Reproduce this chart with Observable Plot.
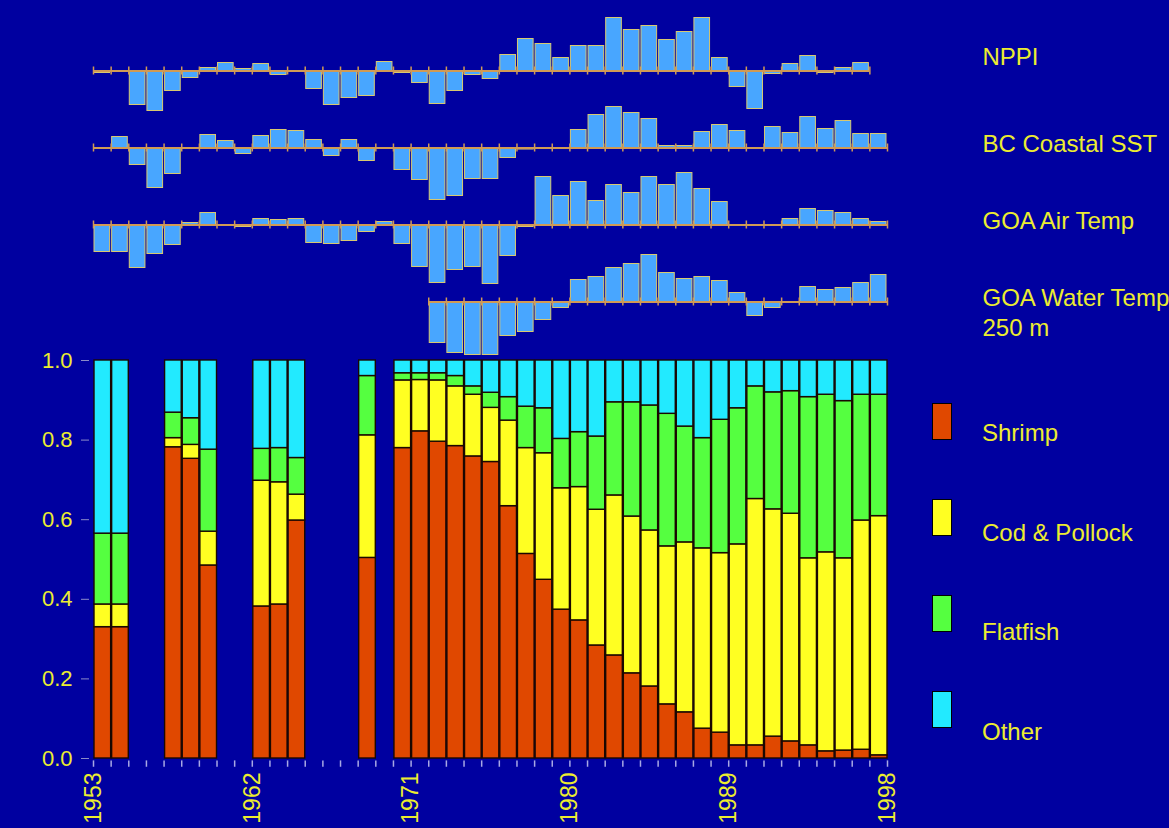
<!DOCTYPE html>
<html><head><meta charset="utf-8">
<script src="https://cdn.jsdelivr.net/npm/d3@7"></script>
<script src="https://cdn.jsdelivr.net/npm/@observablehq/plot@0.6"></script>
<style>
html,body{margin:0;padding:0;background:#0000a0;overflow:hidden}
#wrap{position:relative;width:1169px;height:828px;font-family:"Liberation Sans",Arial,sans-serif}
#wrap svg{display:block;overflow:visible}
.sw{position:absolute;left:932px;width:20px;height:37px;box-sizing:border-box;border:1px solid #000}
.lb{position:absolute;left:982px;font-size:24px;line-height:24px;color:#ecec30;white-space:nowrap}
</style></head><body><div id="wrap"></div>
<script>
// ---------- data ----------
const categories = ["Shrimp", "Cod & Pollock", "Flatfish", "Other"];
const colors = ["#e04800", "#ffff22", "#55ff40", "#22eaff"];
const surveyYears = [1953,1954,1957,1958,1959,1962,1963,1964,1968,1970,1971,1972,1973,1974,1975,1976,1977,1978,1979,1980,1981,1982,1983,1984,1985,1986,1987,1988,1989,1990,1991,1992,1993,1994,1995,1996,1997];
const shrimp     = [.330,.330,.782,.753,.485,.382,.387,.598,.504,.780,.822,.796,.785,.759,.745,.634,.514,.449,.374,.347,.284,.259,.214,.181,.136,.116,.075,.065,.033,.033,.055,.043,.033,.018,.020,.022,.008];
const codPollock = [.057,.057,.023,.035,.085,.316,.307,.065,.308,.170,.129,.154,.150,.155,.136,.215,.266,.318,.305,.335,.341,.402,.394,.392,.397,.427,.453,.451,.505,.619,.571,.572,.470,.500,.483,.576,.601];
const flatfish   = [.178,.178,.064,.067,.206,.080,.086,.092,.149,.018,.017,.018,.026,.021,.038,.059,.104,.113,.124,.138,.184,.234,.287,.314,.333,.291,.277,.335,.342,.283,.294,.308,.405,.396,.395,.316,.305];
const other      = [.435,.435,.131,.145,.224,.222,.220,.245,.039,.032,.032,.032,.039,.065,.081,.092,.116,.120,.197,.180,.191,.105,.105,.113,.134,.166,.195,.149,.120,.065,.080,.077,.092,.086,.102,.086,.086];

const seriesNames = ["NPPI", "BC Coastal SST", "GOA Air Temp", "GOA Water Temp\n250 m"];
const seriesStart = [1953, 1953, 1953, 1972];
const nppi     = [-2,0,-34,-40,-20,-7,3,8,2,7,-4,0,-18,-34,-27,-25,9,-2,-12,-33,-20,-4,-8,16,32,27,13,25,25,53,41,45,31,39,53,13,-16,-38,-3,7,15,-2,3,8];
const bcSST    = [0,11,-17,-40,-26,0,13,7,-6,12,18,17,8,-8,8,-13,-1,-22,-32,-52,-48,-31,-31,-10,-1.5,-1,-1,18,33,41,35,29,2,2,16,23,17,0,21,15,31,19,27,14,14];
const goaAir   = [-27,-27,-43,-29,-20,2,12,0,-2,6,5,6,-18,-19,-16,-7,3,-19,-42,-58,-45,-42,-59,-31,-2,48,29,43,24,40,32,48,40,52,36,23,-1,-1,-1,6,16,14,12,6,3];
const goaWater = [-41,-51,-53,-53,-34,-30,-18,-6,22,25,34,38,47,29,23,25,21,9,-14,-6,0,15,12,14,19,27];

const xTickLabels = [1953, 1962, 1971, 1980, 1989, 1998];
const yTicks = [0, 0.2, 0.4, 0.6, 0.8, 1.0];
const xDomain = [1953, 1998];

// ---------- tables ----------
const seriesValues = [nppi, bcSST, goaAir, goaWater];
const anom = [], anomTicks = [], anomExtent = [];
seriesValues.forEach((vals, k) => {
  const s = seriesNames[k], start = seriesStart[k];
  vals.forEach((v, i) => anom.push({series: s, year: start + i, value: v}));
  for (let i = 0; i <= vals.length; i++) anomTicks.push({series: s, year: start + i});
  anomExtent.push({series: s, x1: start, x2: start + vals.length});
});

const stackRows = [];
const shares = [shrimp, codPollock, flatfish, other];
surveyYears.forEach((y, i) => categories.forEach((c, k) => stackRows.push({year: y, species: c, value: shares[k][i]})));
const yearTicks = d3.range(xDomain[0], xDomain[1] + 1);

const font = '"Liberation Sans", Arial, sans-serif';
const yellow = "#ecec30";
const tan = "#d09a55";
const labelStyle = {text: d => d, frameAnchor: "right", dx: 95, textAnchor: "start", lineAnchor: "top", lineHeight: 1.25, fill: yellow, fontSize: 24};

// ---------- top: climate indices ----------
const topPlot = Plot.plot({
  width: 1169, height: 340,
  marginLeft: 93, marginRight: 282, marginTop: 31.5, marginBottom: 0.5,
  x: {domain: xDomain, axis: null},
  y: {domain: [-38.5, 38.5], axis: null},
  fy: {domain: seriesNames, padding: 0, axis: null},
  style: {background: "transparent", overflow: "visible", fontFamily: font},
  marks: [
    Plot.rectY(anom, {x: "year", interval: 1, y: "value", fy: "series", fill: "#48a6ff", stroke: "#d8c870", strokeWidth: 1, insetLeft: 1, insetRight: 1}),
    Plot.ruleY(anomExtent, {fy: "series", y: 0, x1: "x1", x2: "x2", stroke: tan, strokeWidth: 2}),
    Plot.ruleX(anomTicks, {fy: "series", x: "year", y1: -4, y2: 4, stroke: tan, strokeWidth: 1.5}),
    Plot.text(seriesNames.slice(0, 1), {...labelStyle, fy: d => d, dy: -27}),
    Plot.text(seriesNames.slice(1), {...labelStyle, fy: d => d, dy: -17})
  ]
});

// ---------- bottom: catch composition ----------
const bottomPlot = Plot.plot({
  width: 1169, height: 488,
  marginLeft: 93, marginRight: 282, marginTop: 20, marginBottom: 70,
  x: {domain: xDomain, axis: null},
  y: {domain: [0, 1], axis: null},
  color: {domain: categories, range: colors},
  style: {background: "transparent", overflow: "visible", fontFamily: font},
  marks: [
    Plot.rectY(stackRows, {x: "year", interval: 1, y: "value", fill: "species", order: categories, stroke: "#1a0800", strokeWidth: 1.4}),
    Plot.axisY({ticks: yTicks, tickFormat: ".1f", tickSize: 8, tickPadding: 9, dx: -4, stroke: "#8c8cc8", fill: yellow, fontSize: 22, label: null}),
    Plot.ruleX(yearTicks, {x: d => d, y1: -0.006, y2: -0.022, stroke: "#a8a8e4", strokeWidth: 1.5}),
    Plot.axisX({ticks: xTickLabels, tickSize: 0, tickPadding: 14, tickRotate: -90, tickFormat: d => String(d), fill: yellow, fontSize: 23, label: null})
  ]
});

const wrap = document.getElementById("wrap");
wrap.append(topPlot, bottomPlot);

// ---------- legend ----------
categories.forEach((c, i) => {
  const sw = document.createElement("div");
  sw.className = "sw";
  sw.style.top = (403 + 96 * i) + "px";
  sw.style.background = colors[i];
  const lb = document.createElement("div");
  lb.className = "lb";
  lb.style.top = (421 + 99.5 * i) + "px";
  lb.textContent = c;
  wrap.append(sw, lb);
});
</script></body></html>
